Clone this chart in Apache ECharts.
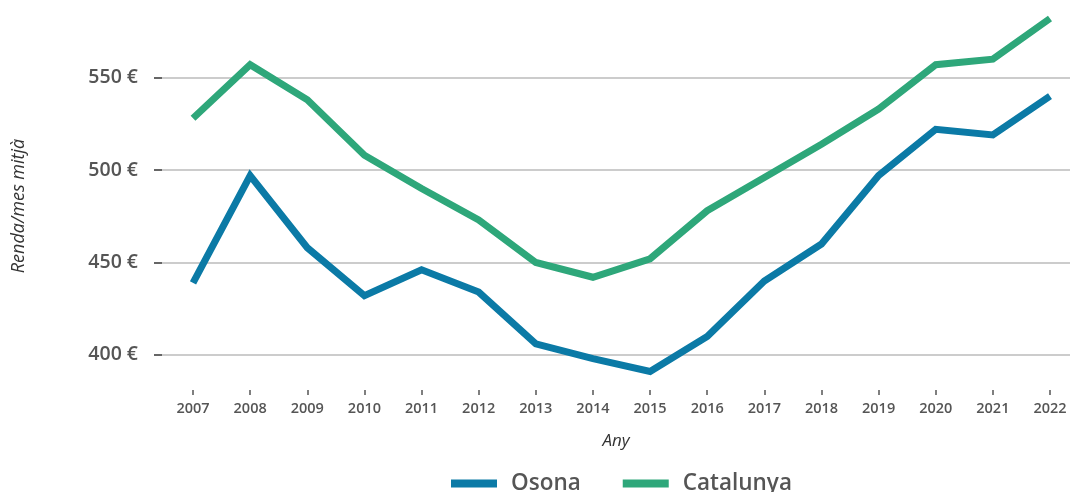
<!DOCTYPE html>
<html>
<head>
<meta charset="utf-8">
<script src="https://cdn.jsdelivr.net/npm/echarts@6/dist/echarts.min.js"></script>
<style>
  html, body { margin: 0; padding: 0; background: #fff; }
  #chart { width: 1070px; height: 492px; }
</style>
</head>
<body>
<div id="chart"></div>
<script>
// years on the x axis
const years = [2007, 2008, 2009, 2010, 2011, 2012, 2013, 2014, 2015, 2016, 2017, 2018, 2019, 2020, 2021, 2022];
// mean monthly income per person (€)
const osona = [439, 497, 458, 432, 446, 434, 406, 398, 391, 410, 440, 460, 497, 522, 519, 540];
const catalunya = [528, 557, 538, 508, 490, 473, 450, 442, 452, 478, 496, 514, 533, 557, 560, 582];
const yTicks = [400, 450, 500, 550];

const FONT = "'Open Sans', 'DejaVu Sans', sans-serif";

const chart = echarts.init(document.getElementById("chart"));
chart.setOption({
  animation: false,
  grid: {
    left: 162,
    right: 0,
    top: 0,
    bottom: 102,
  },
  legend: {
    top: 467,
    left: 446,
    icon: "rect",
    itemWidth: 46,
    itemHeight: 8,
    itemGap: 42,
    textStyle: {
      fontFamily: FONT,
      fontSize: 22.5,
      fontWeight: 600,
      color: "#555",
      padding: [0, 0, 0, 9],
    },
    data: ["Osona", "Catalunya"],
  },
  xAxis: {
    type: "value",
    min: 2006.457,
    max: 2022.35,
    name: "Any",
    nameLocation: "middle",
    nameGap: 43,
    nameTextStyle: {
      fontFamily: FONT,
      fontSize: 17,
      fontStyle: "italic",
      color: "#333",
    },
    axisLine: { show: false },
    splitLine: { show: false },
    axisTick: {
      show: true,
      length: 5,
      customValues: years,
      lineStyle: { color: "#555", width: 1.5 },
    },
    axisLabel: {
      customValues: years,
      margin: 11,
      fontFamily: FONT,
      fontSize: 14.5,
      fontWeight: 600,
      color: "#555",
      formatter: (v) => String(v),
    },
  },
  yAxis: {
    type: "value",
    min: 381,
    max: 592,
    name: "Renda/mes mitjà",
    nameLocation: "middle",
    nameGap: 134,
    nameTextStyle: {
      fontFamily: FONT,
      fontSize: 18,
      fontStyle: "italic",
      color: "#333",
      padding: [0, 22, 0, 0],
    },
    axisLine: { show: false },
    axisTick: {
      show: true,
      length: 8,
      customValues: yTicks,
      lineStyle: { color: "#666", width: 2 },
    },
    splitLine: {
      show: true,
      lineStyle: { color: "#cccccc", width: 2 },
    },
    axisLabel: {
      customValues: yTicks,
      margin: 24,
      fontFamily: FONT,
      fontSize: 19.5,
      fontWeight: 600,
      color: "#555",
      formatter: (v) => v + " €",
    },
  },
  series: [
    {
      name: "Osona",
      type: "line",
      data: years.map((y, i) => [y, osona[i]]),
      showSymbol: false,
      symbol: "none",
      lineStyle: { width: 7, color: "#0b7aa6", join: "miter" },
      itemStyle: { color: "#0b7aa6" },
    },
    {
      name: "Catalunya",
      type: "line",
      data: years.map((y, i) => [y, catalunya[i]]),
      showSymbol: false,
      symbol: "none",
      lineStyle: { width: 7, color: "#2ea77a", join: "miter" },
      itemStyle: { color: "#2ea77a" },
    },
  ],
});
</script>
</body>
</html>
